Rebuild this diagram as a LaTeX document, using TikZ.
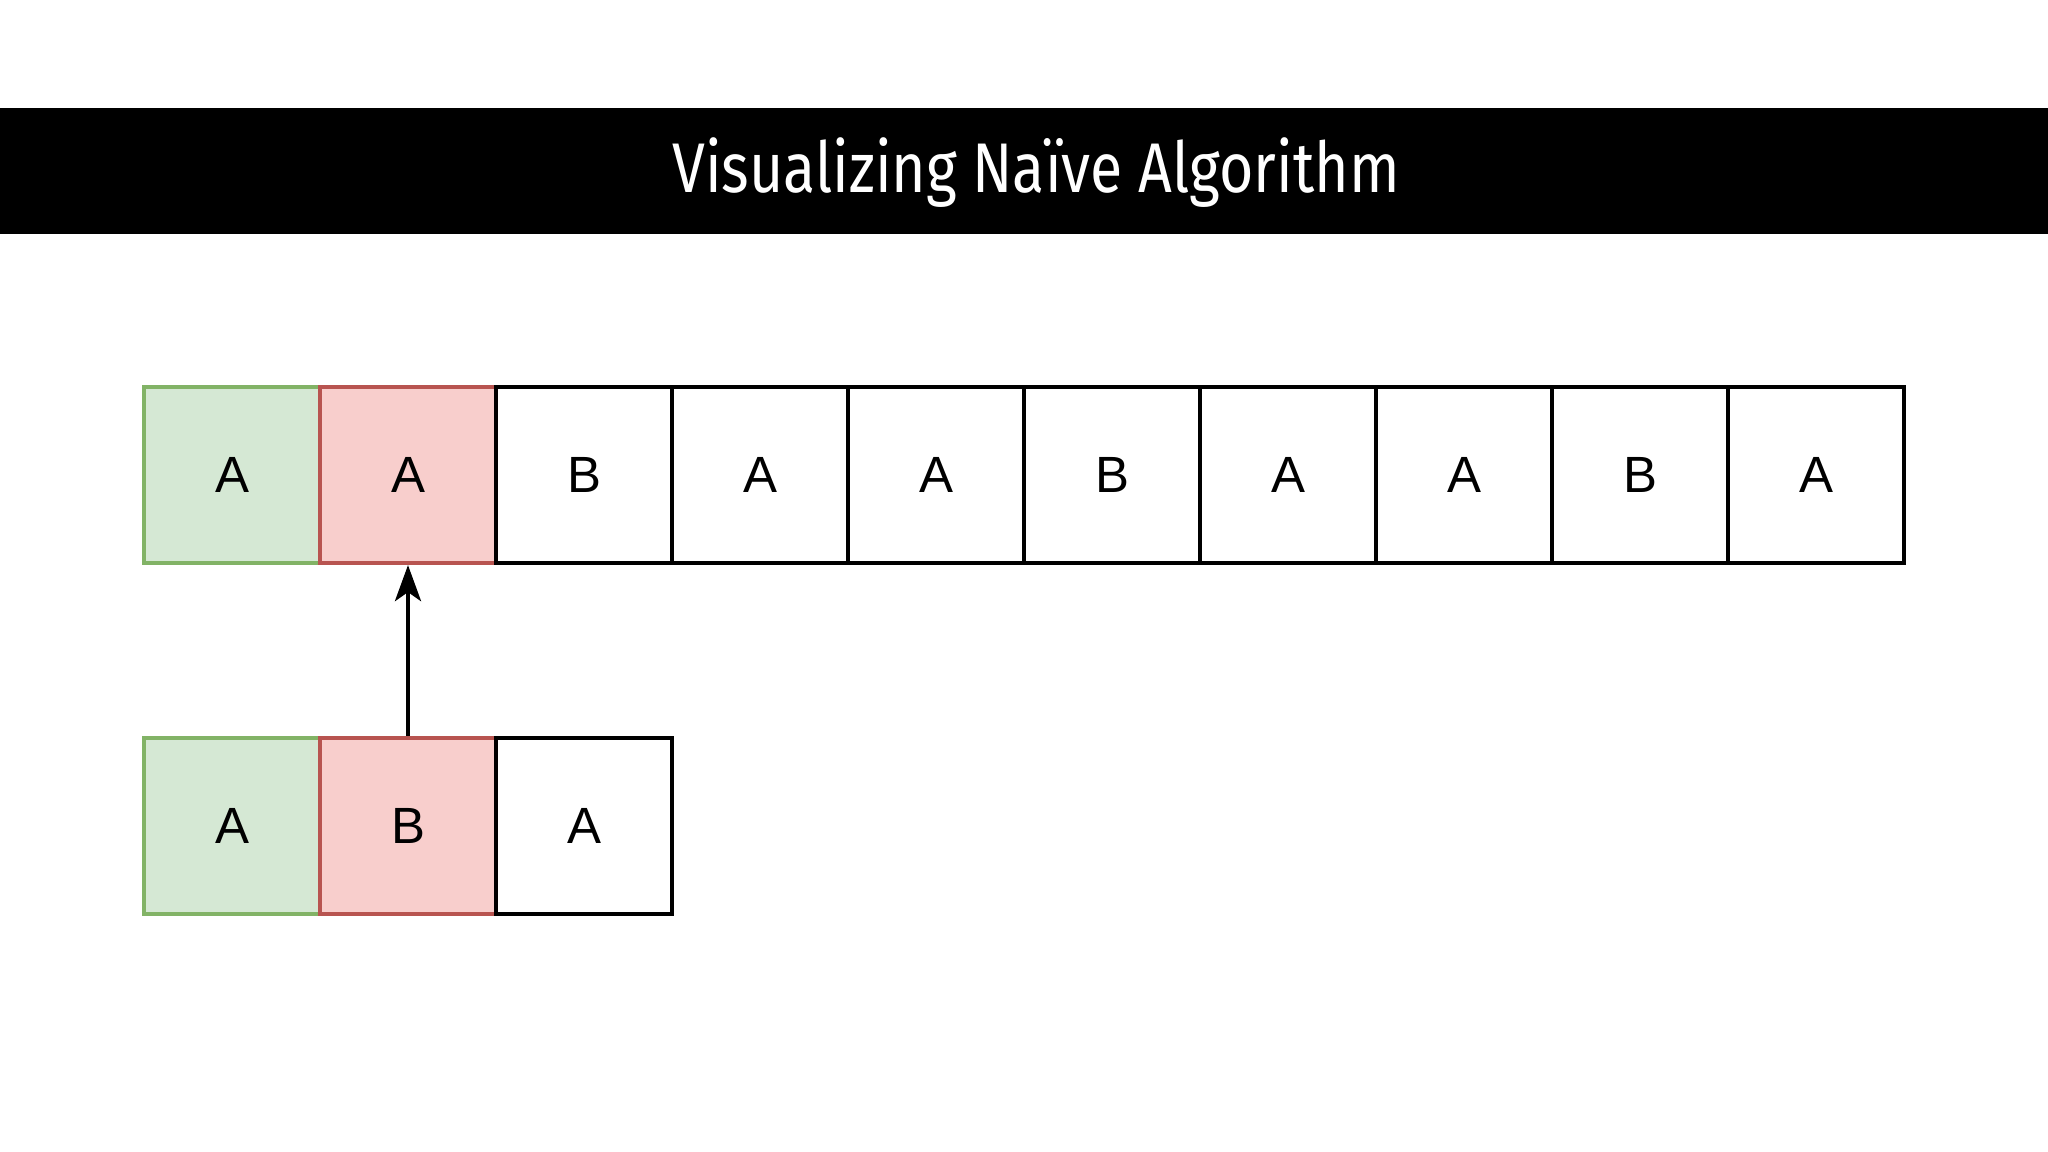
\documentclass[tikz,border=0pt]{standalone}
\usepackage{fontspec}
\setsansfont{Liberation Sans}
\newfontfamily\titlefont[FakeStretch=0.84]{Fira Sans}
\usepackage{tikz}
\usetikzlibrary{arrows.meta}
\definecolor{okfill}{HTML}{D5E8D4}
\definecolor{okline}{HTML}{82B366}
\definecolor{badfill}{HTML}{F8CECC}
\definecolor{badline}{HTML}{B85450}

\begin{document}
\begin{tikzpicture}[node distance=1.76cm,
  cell/.style={rectangle,draw=black,fill=white,line width=1.2pt,inner sep=0pt,
    minimum width=1.76cm,minimum height=1.76cm,font=\sffamily\fontsize{14.5}{17}\selectfont},
  hit/.style={cell,fill=okfill,draw=okline},
  miss/.style={cell,fill=badfill,draw=badline}]
  \useasboundingbox (0,0) rectangle (20.48,-11.52);
  \fill[black] (0,-1.08) rectangle (20.48,-2.34);
  \node[anchor=base,text=white,font=\titlefont\fontsize{20}{24}\selectfont] (title) at (10.36,-1.93) {Visualizing Naïve Algorithm};

  % text
  \node[hit] (t1) at (2.32,-4.75) {A};
  \node[miss] (t2) [right of=t1] {A};
  \node[cell] (t3) [right of=t2] {B};
  \node[cell] (t4) [right of=t3] {A};
  \node[cell] (t5) [right of=t4] {A};
  \node[cell] (t6) [right of=t5] {B};
  \node[cell] (t7) [right of=t6] {A};
  \node[cell] (t8) [right of=t7] {A};
  \node[cell] (t9) [right of=t8] {B};
  \node[cell] (t10) [right of=t9] {A};

  % pattern
  \node[hit] (p1) at (2.32,-8.26) {A};
  \node[miss] (p2) [right of=p1] {B};
  \node[cell] (p3) [right of=p2] {A};

  \draw[-{Stealth[length=0.36cm,width=0.26cm,inset=0.09cm]},line width=1.2pt] (p2) -- (t2);
\end{tikzpicture}
\end{document}
